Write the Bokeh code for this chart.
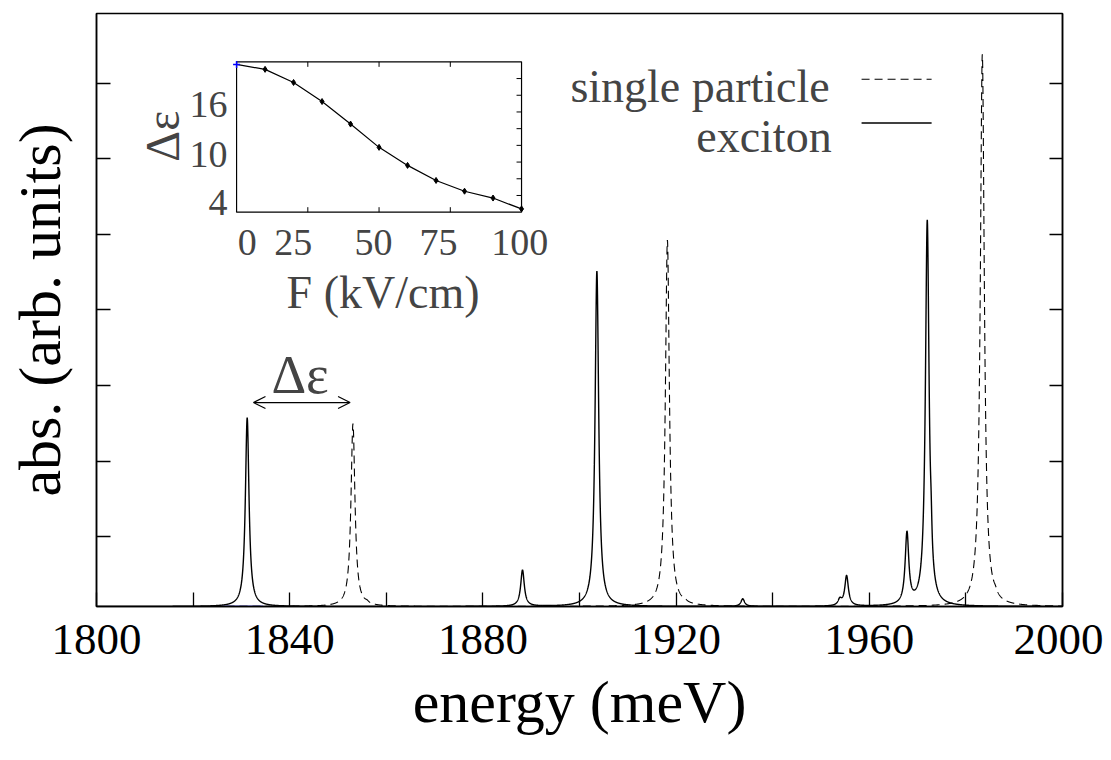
import numpy as np
from bokeh.plotting import figure
from bokeh.models import Range1d, LinearAxis, FixedTicker, Label, Arrow, OpenHead
from bokeh.embed import file_html
from bokeh.resources import INLINE

# ---------------- data ----------------
# exciton spectrum: peak positions (meV), heights (arb.), half widths (meV)
exciton_pos = [1831.2, 1888.2, 1903.6, 1933.8, 1953.9, 1955.3, 1967.8, 1972.0, 1972.8]
exciton_amp = [2.50, 0.48, 4.44, 0.10, 0.08, 0.40, 0.94, 5.09, 0.30]
exciton_hw = [0.45, 0.45, 0.45, 0.45, 0.45, 0.45, 0.45, 0.45, 0.20]
# single-particle spectrum
sp_pos = [1853.1, 1856.0, 1918.2, 1921.8, 1983.4, 1986.1]
sp_amp = [2.42, 0.02, 4.85, 0.02, 7.31, 0.04]
sp_hw = [0.50, 0.45, 0.50, 0.45, 0.50, 0.45]
# small blue trace on the base line
blue_x = [1825.5, 1834.5]
blue_y = [0.0, 0.0]

# inset: splitting vs field
field = [0, 10, 20, 30, 40, 50, 60, 70, 80, 90, 100]
delta_eps = [21.69, 21.10, 19.53, 17.25, 14.55, 11.76, 9.60, 7.80, 6.51, 5.69, 4.39]

x_label_ticks = [1800, 1840, 1880, 1920, 1960, 2000]
x_minor_ticks = [1820, 1860, 1900, 1940, 1980]
inset_x_ticks = [25, 50, 75]
inset_x_labels = ["0", "25", "50", "75", "100"]
inset_y_ticks = [6, 8, 10, 12, 14, 16, 18, 20]
inset_y_labels = ["4", "10", "16"]

FONT = "Liberation Serif"
AXFONT = "Times New Roman"

# ---------------- geometry ----------------
XMIN, XMAX = 1800, 2000
YMAX = 7.85
W, H = 1103, 752
BL, BR, BT, BB = 96, 41, 13, 146

energy = np.linspace(XMIN, XMAX, 8001)


def lorentz(x, pos, amp, hw):
    out = np.zeros_like(x)
    for c, a, g in zip(pos, amp, hw):
        out += a * g * g / ((x - c) ** 2 + g * g)
    return out


exc_curve = lorentz(energy, exciton_pos, exciton_amp, exciton_hw)
sp_curve = lorentz(energy, sp_pos, sp_amp, sp_hw)

p = figure(width=W, height=H, x_range=Range1d(XMIN, XMAX), y_range=Range1d(0, YMAX),
           output_backend="svg", toolbar_location=None,
           min_border_left=BL, min_border_right=BR, min_border_top=BT, min_border_bottom=BB,
           background_fill_color="white", border_fill_color="white")
p.grid.visible = False
p.outline_line_color = "black"
p.outline_line_width = 1.5

y_ticks = [0.926 + k for k in range(7)]

xa = p.xaxis[0]
xa.ticker = FixedTicker(ticks=x_label_ticks, minor_ticks=x_minor_ticks)
xa.major_tick_in = 14
xa.major_tick_out = 0
xa.minor_tick_in = 14
xa.minor_tick_out = 0
xa.major_tick_line_width = 1.3
xa.minor_tick_line_width = 1.3
xa.axis_line_width = 1.5
xa.major_label_text_font = AXFONT
xa.major_label_text_font_size = "45px"
xa.major_label_text_color = "black"
xa.major_label_standoff = 18
xa.axis_label = "energy (meV)"
xa.axis_label_text_font = AXFONT
xa.axis_label_text_font_size = "60px"
xa.axis_label_text_font_style = "normal"
xa.axis_label_text_color = "black"
xa.axis_label_standoff = 12

ya = p.yaxis[0]
ya.ticker = FixedTicker(ticks=[], minor_ticks=y_ticks)
ya.major_tick_in = 14
ya.major_tick_out = 0
ya.minor_tick_in = 14
ya.minor_tick_out = 0
ya.minor_tick_line_width = 1.3
ya.axis_line_width = 1.5
ya.axis_label = "abs. (arb. units)"
ya.axis_label_text_font = AXFONT
ya.axis_label_text_font_size = "60px"
ya.axis_label_text_font_style = "normal"
ya.axis_label_text_color = "black"
ya.axis_label_standoff = 24

rax = LinearAxis(ticker=FixedTicker(ticks=[], minor_ticks=y_ticks), major_tick_in=13, major_tick_out=0,
                 minor_tick_in=13, minor_tick_out=0, minor_tick_line_width=1.3, axis_line_width=1.5)
p.add_layout(rax, "right")

# spectra
p.line(blue_x, blue_y, color="blue", line_width=1.5)
p.line(energy, sp_curve, color="black", line_width=1.1, line_dash="8 5")
p.line(energy, exc_curve, color="black", line_width=1.4)

# legend (drawn by hand: text left of sample)
p.line([1958.4, 1972.9], [6.98, 6.98], color="black", line_width=1.1, line_dash="8 5")
p.line([1958.4, 1972.9], [6.40, 6.40], color="black", line_width=1.4)
p.add_layout(Label(x=1951.8, y=6.88, text="single particle", text_font=FONT, text_font_size="46px",
                   text_align="right", text_baseline="middle"))
p.add_layout(Label(x=1952.2, y=6.22, text="exciton", text_font=FONT, text_font_size="46px",
                   text_align="right", text_baseline="middle"))

# splitting arrow
p.add_layout(Arrow(start=OpenHead(size=12, line_width=1.2), end=OpenHead(size=12, line_width=1.2),
                   x_start=exciton_pos[0] + 1.3, y_start=2.70, x_end=sp_pos[0] - 0.6, y_end=2.70,
                   line_width=1.2))
p.add_layout(Label(x=(exciton_pos[0] + sp_pos[0]) / 2, y=3.06, text="Δε", text_font=FONT,
                   text_font_size="54px", text_align="center", text_baseline="middle"))

# ---------------- inset drawn in extra ranges ----------------
E0, E1 = 1829.0, 1888.0
Y0, Y1 = 5.22, 7.21
F_lo, F_hi = 0, 100
D_lo, D_hi = 4, 22
sx = (F_hi - F_lo) / (E1 - E0)
sy = (D_hi - D_lo) / (Y1 - Y0)
p.extra_x_ranges = {"fx": Range1d(F_lo - (E0 - XMIN) * sx, F_hi + (XMAX - E1) * sx)}
p.extra_y_ranges = {"dy": Range1d(D_lo - (Y0 - 0) * sy, D_hi + (YMAX - Y1) * sy)}
px_per_x = (W - BL - BR) / (XMAX - XMIN)
px_per_y = (H - BT - BB) / YMAX
fx_per_px = sx / px_per_x
dy_per_px = sy / px_per_y
TL = 5

kw = dict(x_range_name="fx", y_range_name="dy")
p.quad(left=F_lo, right=F_hi, bottom=D_lo, top=D_hi, fill_color=None, line_color="black",
       line_width=1.2, **kw)
p.segment(x0=inset_x_ticks, x1=inset_x_ticks, y0=[D_lo] * 3, y1=[D_lo + TL * dy_per_px] * 3,
          line_color="black", line_width=1, **kw)
p.segment(x0=inset_x_ticks, x1=inset_x_ticks, y0=[D_hi] * 3, y1=[D_hi - TL * dy_per_px] * 3,
          line_color="black", line_width=1, **kw)
n = len(inset_y_ticks)
p.segment(x0=[F_hi] * n, x1=[F_hi - TL * fx_per_px] * n, y0=inset_y_ticks, y1=inset_y_ticks,
          line_color="black", line_width=1, **kw)
p.line(field, delta_eps, color="black", line_width=1.2, **kw)
p.scatter(field[1:], delta_eps[1:], marker="diamond", size=6, color="black", **kw)
p.scatter(field[:1], delta_eps[:1], marker="cross", size=7, color="blue", line_width=1.5, **kw)

in_off = [10.7, -14.5, -5.6, -11.7, -1.7]
for t, dx in zip(inset_x_labels, in_off):
    p.add_layout(Label(x=float(t), y=D_lo, x_offset=dx, y_offset=-30, text=t, text_font=FONT,
                       text_font_size="38px", text_align="center", text_baseline="middle", **kw))
in_yoff = [10, 8, 7]
for t, dy in zip(inset_y_labels, in_yoff):
    p.add_layout(Label(x=F_lo, y=float(t), x_offset=-9, y_offset=dy, text=t, text_font=FONT,
                       text_font_size="38px", text_align="right", text_baseline="middle", **kw))
p.add_layout(Label(x=50, y=D_lo, x_offset=4, y_offset=-80, text="F (kV/cm)", text_font=FONT,
                   text_font_size="46px", text_align="center", text_baseline="middle", **kw))
p.add_layout(Label(x=F_lo, y=13.1, x_offset=-74, text="Δε", text_font=FONT,
                   text_font_size="48px", text_align="center", text_baseline="middle",
                   angle=np.pi / 2, **kw))

open("out.html", "w").write(file_html(p, INLINE))
